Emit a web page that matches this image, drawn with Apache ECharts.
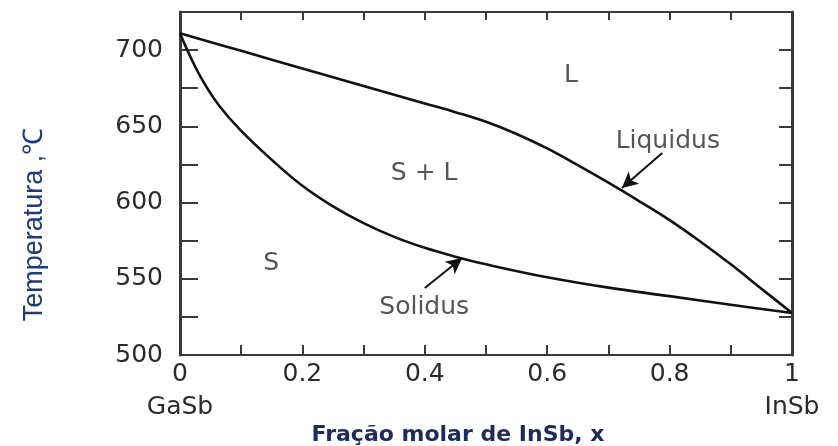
<!DOCTYPE html>
<html>
<head>
<meta charset="utf-8">
<title>Diagrama de fases GaSb–InSb</title>
<script src="https://cdn.jsdelivr.net/npm/echarts@6/dist/echarts.min.js"></script>
<style>
  html, body { margin: 0; padding: 0; background: #ffffff; }
  #chart { width: 838px; height: 446px; }
</style>
</head>
<body>
<div id="chart"></div>
<script>
// Liquidus curve: molar fraction of InSb (x) and temperature (°C)
const liquidusX = [0, 0.1, 0.2, 0.3, 0.4, 0.45, 0.5, 0.55, 0.6, 0.65, 0.7, 0.75, 0.8, 0.85, 0.9, 0.95, 1];
const liquidusT = [711, 699.5, 688, 676.5, 665, 659.3, 653, 645, 635.5, 624.5, 613, 601, 588.5, 574.5, 559.5, 543.5, 527.5];

// Solidus curve
const solidusX = [0, 0.02, 0.04, 0.065, 0.1, 0.15, 0.2, 0.25, 0.3, 0.35, 0.4, 0.45, 0.5, 0.6, 0.7, 0.8, 0.9, 1];
const solidusT = [711, 693, 678, 663, 647, 628, 611, 597.5, 586.5, 577.5, 570.3, 564.5, 559.5, 551, 544.2, 538.6, 533, 527.5];

// Region and curve labels, placed in data coordinates
const regionLabels = ['L', 'S + L', 'S', 'Liquidus', 'Solidus'];
const regionLabelX = [0.639, 0.399, 0.149, 0.797, 0.399];
const regionLabelT = [685.6, 620.7, 562.3, 642.3, 533.4];

// Arrows from the curve names to the curves: [tailX, tailT, headX, headT]
const arrowLiquidus = [0.788, 632.5, 0.722, 609.5];
const arrowSolidus = [0.400, 543.9, 0.461, 563.6];

// Axis ranges and tick steps
const xRange = [0, 1];
const xStep = 0.1;
const tRange = [500, 725];
const tStep = 25;
const endLabels = { 0: 'GaSb', 10: 'InSb' };

const pairs = (xs, ys) => xs.map((x, i) => [x, ys[i]]);

const chart = echarts.init(document.getElementById('chart'), null, { renderer: 'canvas' });

const axisColor = '#3a3a3a';
const labelFont = 'DejaVu Sans';
const labelColor = '#2b2b2b';

const frameAxis = (extra) => Object.assign({
  axisLine: { show: true, onZero: false, lineStyle: { color: axisColor, width: 2 } },
  splitLine: { show: false }
}, extra);

const option = {
  animation: false,
  backgroundColor: '#ffffff',
  grid: { left: 180, right: 46, top: 12, bottom: 91, containLabel: false, outerBoundsMode: 'none' },
  xAxis: [
    frameAxis({
      type: 'value', position: 'bottom', min: xRange[0], max: xRange[1], interval: xStep,
      name: 'Fração molar de InSb, x',
      nameLocation: 'middle', nameGap: 69, nameMoveOverlap: false,
      nameTextStyle: { fontFamily: labelFont, fontWeight: 'bold', fontSize: 22, color: '#1d2b5e', padding: [0, 56, 0, 0] },
      axisTick: { show: true, inside: true, length: 10, lineStyle: { color: axisColor, width: 2 } },
      axisLabel: {
        margin: 3, fontFamily: labelFont, fontSize: 25, color: labelColor, lineHeight: 33,
        formatter: v => {
          const k = Math.round(v / xStep);
          if (k % 2 !== 0) return '';
          const txt = String(Math.round(v * 10) / 10);
          return endLabels[k] ? txt + '\n' + endLabels[k] : txt;
        }
      }
    }),
    frameAxis({
      type: 'value', position: 'top', min: xRange[0], max: xRange[1], interval: xStep,
      axisTick: { show: true, inside: true, length: 8, lineStyle: { color: axisColor, width: 2 } },
      axisLabel: { show: false }
    })
  ],
  yAxis: [
    frameAxis({
      type: 'value', position: 'left', min: tRange[0], max: tRange[1], interval: tStep,
      name: 'Temperatura ,℃',
      nameLocation: 'middle', nameRotate: 90, nameGap: 132, nameMoveOverlap: false,
      nameTextStyle: { fontFamily: 'Liberation Sans', fontSize: 27, color: '#1f3a78', padding: [0, 82, 0, 0] },
      axisLine: { show: true, onZero: false, lineStyle: { color: axisColor, width: 3 } },
      axisTick: { show: true, inside: true, length: 18, lineStyle: { color: axisColor, width: 2 } },
      axisLabel: {
        margin: 17, fontFamily: labelFont, fontSize: 25, color: labelColor,
        formatter: v => (v % 50 === 0 && v <= 700) ? String(v) : ''
      }
    }),
    frameAxis({
      type: 'value', position: 'right', min: tRange[0], max: tRange[1], interval: tStep,
      axisLine: { show: true, onZero: false, lineStyle: { color: axisColor, width: 3 } },
      axisTick: { show: true, inside: true, length: 13, lineStyle: { color: axisColor, width: 2 } },
      axisLabel: { show: false }
    })
  ],
  series: [
    {
      name: 'Liquidus', type: 'line', xAxisIndex: 0, yAxisIndex: 0,
      data: pairs(liquidusX, liquidusT),
      smooth: 0.4, showSymbol: false, symbol: 'none',
      lineStyle: { color: '#111111', width: 2.6 }
    },
    {
      name: 'Solidus', type: 'line', xAxisIndex: 0, yAxisIndex: 0,
      data: pairs(solidusX, solidusT),
      smooth: 0.4, showSymbol: false, symbol: 'none',
      lineStyle: { color: '#111111', width: 2.6 }
    },
    {
      name: 'Rótulos', type: 'scatter', xAxisIndex: 0, yAxisIndex: 0,
      silent: true, symbolSize: 1,
      itemStyle: { color: 'rgba(0,0,0,0)' },
      data: regionLabels.map((t, i) => ({ value: [regionLabelX[i], regionLabelT[i]], name: t })),
      label: {
        show: true, position: 'inside', offset: [0, 3], formatter: p => p.name,
        fontFamily: labelFont, fontSize: 25, color: labelColor
      },
      markLine: {
        silent: true, symbol: ['none', 'arrow'], symbolSize: [12, 16],
        lineStyle: { color: '#111111', width: 2, type: 'solid' },
        label: { show: false },
        data: [arrowLiquidus, arrowSolidus].map(a => [
          { coord: [a[0], a[1]] },
          { coord: [a[2], a[3]] }
        ])
      }
    }
  ]
};

chart.setOption(option);
</script>
</body>
</html>
